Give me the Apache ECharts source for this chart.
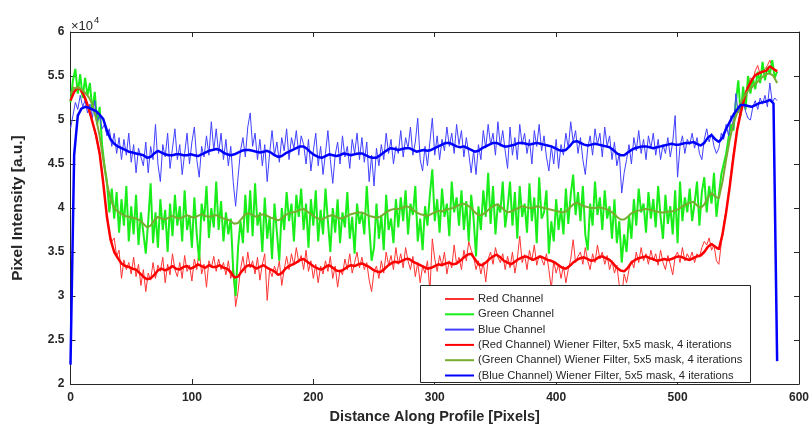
<!DOCTYPE html>
<html><head><meta charset="utf-8">
<script src="https://cdn.jsdelivr.net/npm/echarts@6/dist/echarts.min.js"></script>
<style>html,body{margin:0;padding:0;background:#fff;overflow:hidden}#c{width:812px;height:429px}</style>
</head><body><div id="c"></div>
<script>
// Values are in units of 10^4 (as on the y axis)
const seriesNames = ['Red Channel','Green Channel','Blue Channel',
  '(Red Channel) Wiener Filter, 5x5 mask, 4 iterations',
  '(Green Channel) Wiener Filter, 5x5 mask, 4 iterations',
  '(Blue Channel) Wiener Filter, 5x5 mask, 4 iterations'];
const yTicks = [2,2.5,3,3.5,4,4.5,5,5.5,6];
const xTicks = [0,100,200,300,400,500,600];
const rawStep = 2;     // profile sample spacing of the raw channel arrays (pixels)
const smoothStep = 3;  // sample spacing of the filtered arrays (pixels)

const redRaw = [
5.30,5.38,5.34,5.40,5.33,5.28,5.22,5.16,5.06,4.98,4.86,4.74,4.60,4.42,4.18,
3.88,3.72,3.62,3.66,3.45,3.52,3.20,3.41,3.30,3.38,3.25,3.44,3.22,3.36,3.12,
3.30,3.05,3.26,3.18,3.38,3.20,3.35,3.28,3.44,3.15,3.36,3.24,3.48,3.30,3.22,
3.38,3.20,3.46,3.28,3.35,3.17,3.42,3.30,3.52,3.25,3.36,3.10,3.40,3.32,3.45,
3.28,3.42,3.30,3.38,3.24,3.40,3.20,3.32,2.88,3.05,3.30,3.45,3.26,3.50,3.32,
3.40,3.25,3.44,3.18,3.36,3.48,2.95,3.30,3.22,3.34,3.26,3.40,3.12,3.30,3.45,
3.30,3.48,3.35,3.55,3.38,3.46,3.30,3.52,3.28,3.40,3.20,3.36,3.15,3.34,3.25,
3.40,3.28,3.45,3.20,3.34,3.10,3.30,3.24,3.42,3.30,3.48,3.26,3.38,3.50,3.32,
3.44,3.30,3.38,3.18,3.05,3.28,3.34,3.20,3.40,3.26,3.50,3.35,3.46,3.30,3.55,
3.36,3.48,3.32,3.55,3.40,3.30,3.45,3.22,3.38,3.15,3.34,3.26,3.40,3.05,3.65,
3.42,3.28,3.46,3.34,3.50,3.25,3.40,3.32,3.58,3.36,3.44,3.30,3.52,3.40,3.62,
3.52,3.45,3.30,3.40,3.25,3.38,3.16,3.42,3.50,3.36,3.55,3.44,3.38,3.48,3.30,
3.45,3.32,3.50,3.26,3.42,3.68,3.38,3.47,3.30,3.52,3.40,3.58,3.35,3.46,3.42,
3.35,3.48,3.30,3.08,3.40,3.26,3.36,3.20,3.34,3.15,3.30,3.42,3.64,3.38,3.45,
3.50,3.36,3.55,3.40,3.30,3.48,3.38,3.58,3.42,3.50,3.36,3.46,3.30,3.40,3.26,
3.35,3.12,3.00,3.25,3.15,3.30,3.40,3.32,3.50,3.38,3.55,3.40,3.48,3.36,3.52,
3.40,3.48,3.35,3.52,3.38,3.30,3.46,3.36,3.24,3.45,3.50,3.38,3.55,3.40,3.48,
3.42,3.50,3.38,3.48,3.44,3.55,3.62,3.58,3.66,3.52,3.58,3.40,3.36,3.60,3.82,
3.98,4.15,4.40,4.62,4.80,4.98,5.12,5.20,5.32,5.40,5.48,5.45,5.56,5.62,5.52,
5.55,5.58,5.62,5.68,5.60,5.56,5.57];

const greenRaw = [
5.20,5.45,5.58,5.30,5.52,5.25,5.48,5.28,5.42,5.10,5.32,4.95,5.15,4.72,4.48,
4.30,3.95,4.22,3.88,4.18,3.72,4.10,3.80,4.25,3.62,4.02,3.70,4.15,3.58,3.95,
3.72,3.48,3.85,4.28,3.60,3.95,3.55,4.10,3.75,3.98,3.50,4.05,3.68,4.15,3.80,
4.02,3.62,4.20,3.75,3.92,3.55,4.12,3.70,3.40,4.05,3.85,4.25,3.66,4.00,3.78,
4.30,3.75,4.08,3.62,3.95,3.70,3.88,3.30,3.00,3.55,3.85,3.60,4.15,3.72,4.20,
3.68,4.28,3.80,3.95,3.50,4.12,3.65,3.90,3.42,4.05,3.72,3.40,4.00,3.75,4.18,
3.85,4.05,3.62,4.15,3.90,4.22,3.75,4.05,3.55,4.10,3.80,4.20,3.62,3.98,3.70,
4.22,3.85,3.50,4.00,3.72,4.10,3.60,3.95,3.78,4.18,3.65,3.90,3.48,4.05,3.82,
3.95,3.70,4.25,3.80,3.40,3.55,4.05,3.65,3.92,3.52,4.15,3.75,3.88,3.60,4.10,
3.78,4.12,3.85,4.20,3.70,4.05,3.92,4.25,3.62,3.88,3.52,4.02,3.80,4.15,4.44,
3.85,4.10,3.72,4.22,3.90,4.05,3.68,4.30,3.95,4.12,3.80,4.20,3.75,4.08,3.62,
4.15,3.88,3.45,4.02,3.75,4.20,3.90,4.40,3.82,4.25,3.70,4.05,3.95,4.30,3.78,
4.00,4.30,3.80,4.18,3.65,4.25,3.90,4.05,3.72,4.28,3.85,4.12,3.60,4.35,3.88,
3.95,4.20,3.48,3.85,3.62,4.10,3.75,4.00,3.70,4.22,3.82,4.15,4.38,3.92,4.18,
3.85,4.25,3.70,3.52,4.05,3.80,4.30,3.92,4.12,3.75,4.20,3.88,4.02,3.65,4.10,
3.60,3.85,3.38,3.70,3.50,3.92,3.65,4.10,3.80,4.22,3.95,4.05,3.72,4.18,3.88,
4.10,3.78,4.25,3.90,3.65,4.15,3.82,4.02,3.70,4.20,3.60,4.30,3.85,4.12,3.95,
4.22,3.85,4.05,4.30,3.80,4.18,4.35,3.95,4.25,4.05,4.40,3.90,4.15,4.38,4.50,
4.62,4.80,4.95,4.88,5.20,5.45,5.05,5.38,5.12,5.50,5.30,5.48,5.35,5.55,5.42,
5.66,5.45,5.60,5.52,5.68,5.48,5.55];

const blueRaw = [
4.90,5.05,5.20,5.12,5.28,5.15,5.22,5.08,5.18,5.02,5.22,4.98,5.05,4.90,4.95,
4.82,4.90,4.70,4.85,4.62,4.80,4.55,4.78,4.60,4.85,4.52,4.72,4.40,4.68,4.58,
4.48,4.75,4.40,4.70,4.55,4.95,4.50,4.30,4.72,4.58,4.85,4.45,4.68,4.90,4.55,
4.72,4.38,4.62,4.85,4.50,4.75,4.92,4.55,4.35,4.70,4.58,4.82,4.60,4.98,4.65,
4.90,4.62,4.85,4.55,4.78,4.48,4.70,4.30,4.02,4.35,4.65,4.80,4.58,4.92,5.08,
4.70,4.85,4.55,4.78,4.48,4.72,4.30,4.62,4.88,4.60,4.75,4.52,4.80,4.65,4.90,
4.55,4.80,4.68,4.88,4.60,4.82,4.72,4.50,4.78,4.42,4.65,4.85,4.48,4.70,4.38,
4.62,4.88,4.55,4.28,4.60,4.75,4.50,4.82,4.58,4.70,4.45,4.78,4.62,4.85,4.55,
4.80,4.52,4.75,4.30,4.60,4.25,4.68,4.48,4.72,4.55,4.85,4.62,4.78,4.50,4.70,
4.62,4.88,4.58,4.80,4.68,4.92,4.60,4.75,5.02,4.55,4.42,4.70,4.48,4.75,5.02,
4.60,4.82,4.55,4.78,4.65,4.92,4.70,4.85,4.62,4.95,4.72,4.88,4.58,4.80,4.62,
4.40,4.65,4.38,4.72,4.55,4.88,4.68,4.95,4.72,4.85,4.60,4.98,4.70,4.88,4.65,
4.45,4.92,4.60,4.80,4.55,4.95,4.72,4.85,4.62,4.78,4.50,4.88,4.70,4.95,4.65,
4.82,4.58,4.42,4.70,4.50,4.78,4.45,4.72,4.60,4.85,4.68,4.98,4.75,4.88,4.62,
4.80,4.55,4.38,4.68,4.82,4.60,4.90,4.72,4.85,4.58,4.92,4.70,4.82,4.55,4.75,
4.48,4.62,4.17,4.40,4.55,4.72,4.50,4.80,4.65,4.88,4.62,4.78,4.55,4.82,4.68,
4.85,4.60,4.78,4.55,4.72,4.62,4.80,4.58,4.75,5.05,4.35,4.70,4.82,4.62,4.78,
4.72,4.85,4.68,4.80,4.62,4.55,4.78,4.90,4.75,4.85,4.70,4.62,4.68,4.85,4.78,
4.95,4.82,5.05,4.90,5.30,5.08,5.18,5.22,5.10,5.02,5.00,5.15,5.22,5.12,5.25,
5.18,5.28,5.15,5.42,5.20,5.25,5.22];

const redWiener = [
5.22,5.32,5.37,5.34,5.25,5.13,4.98,4.83,4.62,4.28,
3.90,3.64,3.50,3.43,3.37,3.34,3.33,3.31,3.30,3.26,
3.22,3.19,3.20,3.24,3.29,3.31,3.29,3.31,3.34,3.31,
3.30,3.33,3.34,3.31,3.33,3.36,3.34,3.32,3.35,3.33,
3.33,3.35,3.32,3.31,3.27,3.21,3.22,3.28,3.33,3.35,
3.34,3.31,3.33,3.35,3.32,3.30,3.28,3.24,3.26,3.31,
3.34,3.36,3.38,3.41,3.42,3.39,3.36,3.33,3.31,3.30,
3.33,3.35,3.32,3.29,3.28,3.30,3.33,3.35,3.34,3.36,
3.37,3.35,3.33,3.30,3.28,3.27,3.30,3.34,3.37,3.39,
3.38,3.40,3.42,3.42,3.39,3.37,3.35,3.33,3.31,3.32,
3.34,3.36,3.35,3.37,3.38,3.36,3.37,3.40,3.44,3.47,
3.48,3.42,3.36,3.35,3.38,3.42,3.45,3.47,3.44,3.40,
3.38,3.36,3.39,3.42,3.44,3.45,3.43,3.41,3.43,3.45,
3.43,3.41,3.40,3.38,3.35,3.32,3.31,3.34,3.38,3.41,
3.43,3.44,3.42,3.40,3.41,3.44,3.45,3.43,3.41,3.37,
3.32,3.29,3.28,3.32,3.38,3.41,3.43,3.44,3.45,3.43,
3.42,3.40,3.41,3.42,3.41,3.42,3.44,3.45,3.44,3.42,
3.41,3.43,3.45,3.46,3.50,3.56,3.59,3.56,3.53,3.70,
3.95,4.25,4.58,4.88,5.08,5.25,5.37,5.45,5.51,5.53,
5.55,5.56,5.61,5.58,5.55];

const greenWiener = [
5.30,5.36,5.37,5.35,5.31,5.26,5.18,5.02,4.82,4.55,
4.28,4.10,4.00,3.96,3.93,3.91,3.90,3.89,3.88,3.86,
3.82,3.78,3.80,3.86,3.90,3.88,3.87,3.89,3.91,3.89,
3.88,3.90,3.92,3.90,3.89,3.91,3.93,3.91,3.90,3.91,
3.92,3.90,3.88,3.87,3.85,3.82,3.83,3.88,3.93,3.94,
3.92,3.90,3.92,3.93,3.91,3.89,3.88,3.86,3.88,3.92,
3.94,3.95,3.96,3.98,3.99,3.96,3.93,3.90,3.88,3.87,
3.89,3.91,3.92,3.90,3.88,3.89,3.91,3.93,3.94,3.95,
3.95,3.93,3.91,3.90,3.89,3.90,3.93,3.96,3.98,3.99,
3.99,4.00,4.02,4.01,3.98,3.95,3.93,3.92,3.91,3.93,
3.95,3.97,3.96,3.98,3.99,4.00,4.02,4.04,4.05,4.03,
4.00,3.95,3.92,3.92,3.95,3.99,4.02,4.04,4.02,3.98,
3.95,3.96,3.98,4.00,4.02,4.01,4.00,4.00,4.02,4.01,
4.00,3.99,3.98,3.97,3.96,3.95,3.96,4.00,4.04,4.06,
4.04,4.02,4.01,4.00,4.00,4.01,4.00,3.99,3.97,3.94,
3.90,3.87,3.87,3.90,3.94,3.96,3.97,3.98,3.99,3.98,
3.97,3.96,3.95,3.95,3.96,3.96,3.97,3.99,4.02,4.04,
4.06,4.07,4.03,4.00,4.04,4.12,4.17,4.13,4.11,4.30,
4.55,4.78,4.96,5.08,5.20,5.27,5.33,5.37,5.41,5.45,
5.49,5.52,5.53,5.50,5.42];

const blueWiener = [
2.22,4.60,5.05,5.13,5.15,5.14,5.12,5.10,5.06,5.01,
4.88,4.78,4.73,4.70,4.68,4.66,4.64,4.63,4.62,4.61,
4.60,4.57,4.58,4.62,4.65,4.63,4.61,4.60,4.60,4.61,
4.61,4.60,4.60,4.61,4.60,4.59,4.61,4.63,4.65,4.66,
4.67,4.66,4.63,4.61,4.60,4.61,4.63,4.65,4.66,4.66,
4.65,4.64,4.63,4.64,4.65,4.63,4.60,4.58,4.59,4.62,
4.64,4.66,4.68,4.70,4.70,4.67,4.63,4.60,4.58,4.57,
4.59,4.61,4.60,4.59,4.60,4.62,4.61,4.60,4.61,4.62,
4.62,4.60,4.58,4.57,4.57,4.60,4.63,4.66,4.68,4.67,
4.66,4.67,4.68,4.68,4.66,4.64,4.65,4.66,4.65,4.66,
4.68,4.70,4.72,4.74,4.74,4.72,4.70,4.69,4.70,4.68,
4.66,4.64,4.65,4.68,4.70,4.72,4.74,4.74,4.72,4.70,
4.70,4.71,4.72,4.74,4.74,4.73,4.72,4.73,4.74,4.73,
4.72,4.71,4.70,4.68,4.66,4.65,4.66,4.70,4.75,4.76,
4.74,4.72,4.71,4.72,4.73,4.72,4.71,4.70,4.69,4.66,
4.62,4.60,4.60,4.63,4.66,4.68,4.69,4.70,4.70,4.69,
4.68,4.69,4.70,4.71,4.72,4.73,4.72,4.72,4.73,4.74,
4.74,4.75,4.73,4.71,4.74,4.80,4.83,4.78,4.75,4.80,
4.90,4.98,5.06,5.12,5.17,5.17,5.16,5.15,5.17,5.19,
5.20,5.21,5.23,5.19,2.26];

function pairs(arr, step) { return arr.map((v, i) => [i * step, v]); }

const FONT = '"Liberation Sans", Arial, Helvetica, sans-serif';
const AX = '#262626';
const chart = echarts.init(document.getElementById('c'), null, {renderer: 'canvas', width: 812, height: 429});

const lineSeries = (name, data, step, color, width, z) => ({
  name, type: 'line', data: pairs(data, step), symbol: 'none', showSymbol: false,
  lineStyle: {color, width}, itemStyle: {color}, z, animation: false,
  emphasis: {disabled: true}
});

chart.setOption({
  animation: false,
  backgroundColor: '#fff',
  grid: {left: 70.5, right: 9.5, top: 32, bottom: 44, show: false},
  xAxis: [{
    type: 'value', min: xTicks[0], max: xTicks[xTicks.length - 1], interval: 100,
    name: 'Distance Along Profile [Pixels]', nameLocation: 'middle', nameGap: 25,
    nameTextStyle: {fontFamily: FONT, fontWeight: 'bold', fontSize: 14.5, color: AX},
    axisLine: {show: true, onZero: false, lineStyle: {color: AX, width: 1}},
    axisTick: {show: true, inside: true, length: 5, lineStyle: {color: AX}},
    axisLabel: {fontFamily: FONT, fontWeight: 'bold', fontSize: 12, color: AX, margin: 8},
    splitLine: {show: false}
  }, {
    type: 'value', position: 'top', min: 0, max: 600, interval: 100,
    axisLine: {show: true, onZero: false, lineStyle: {color: AX, width: 1}},
    axisTick: {show: true, inside: true, length: 5, lineStyle: {color: AX}},
    axisLabel: {show: false}, splitLine: {show: false}
  }],
  yAxis: [{
    type: 'value', min: yTicks[0], max: yTicks[yTicks.length - 1], interval: 0.5,
    name: 'Pixel Intensity [a.u.]', nameLocation: 'middle', nameGap: 45,
    nameTextStyle: {fontFamily: FONT, fontWeight: 'bold', fontSize: 15.5, color: AX},
    axisLine: {show: true, onZero: false, lineStyle: {color: AX, width: 1}},
    axisTick: {show: true, inside: true, length: 5, lineStyle: {color: AX}},
    axisLabel: {fontFamily: FONT, fontWeight: 'bold', fontSize: 12, color: AX, margin: 6},
    splitLine: {show: false}
  }, {
    type: 'value', position: 'right', min: 2, max: 6, interval: 0.5,
    axisLine: {show: true, onZero: false, lineStyle: {color: AX, width: 1}},
    axisTick: {show: true, inside: true, length: 5, lineStyle: {color: AX}},
    axisLabel: {show: false}, splitLine: {show: false}
  }],
  legend: {
    orient: 'vertical', left: 444, top: 293.5, padding: 0,
    itemWidth: 29, itemHeight: 11, itemGap: 4.3, z: 20,
    itemStyle: {opacity: 0, borderWidth: 0},
    textStyle: {fontFamily: FONT, fontSize: 11.2, color: AX, padding: [0, 0, 0, -1]},
    data: seriesNames
  },
  graphic: [
    {type: 'rect', z: 10, shape: {x: 420.5, y: 285.5, width: 330, height: 97},
     style: {fill: '#fff', stroke: AX, lineWidth: 1}},
    {type: 'text', z: 10, left: 71, top: 15,
     style: {text: '{a|\u00d710}{b|4}', rich: {
       a: {fontFamily: FONT, fontSize: 13, fill: AX, verticalAlign: 'bottom'},
       b: {fontFamily: FONT, fontSize: 9.5, fill: AX, verticalAlign: 'top', padding: [0, 0, 8, 1]}}}}
  ],
  series: [
    lineSeries(seriesNames[0], redRaw, rawStep, '#ff3333', 1, 2),
    lineSeries(seriesNames[1], greenRaw, rawStep, '#1aee1a', 2, 3),
    lineSeries(seriesNames[2], blueRaw, rawStep, '#4040ff', 1, 4),
    lineSeries(seriesNames[3], redWiener, smoothStep, '#ff0000', 2.5, 5),
    lineSeries(seriesNames[4], greenWiener, smoothStep, '#77ac30', 2, 6),
    lineSeries(seriesNames[5], blueWiener, smoothStep, '#0000ff', 2.5, 7)
  ]
});
</script></body></html>
